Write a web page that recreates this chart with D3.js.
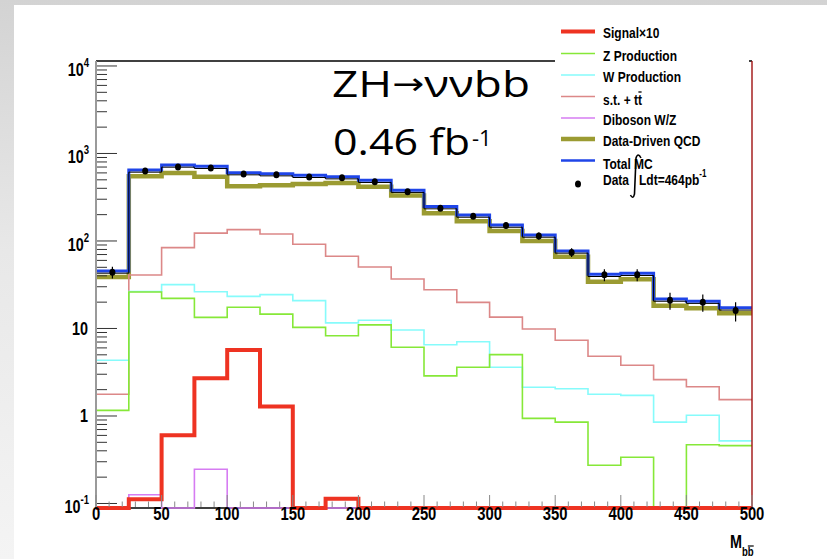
<!DOCTYPE html>
<html>
<head>
<meta charset="utf-8">
<script src="https://cdn.jsdelivr.net/npm/d3@7"></script>
<style>
  body { margin: 0; background: #fff; }
  svg { display: block; }
  .root { font-family: "Liberation Sans", Arial, sans-serif; font-weight: bold; }
</style>
</head>
<body>
<div id="chart"></div>
<script>
// bin edges of M_bb (GeV), 20 bins of 25
const binEdges = [0, 25, 50, 75, 100, 125, 150, 175, 200, 225, 250, 275, 300, 325, 350, 375, 400, 425, 450, 475, 500];

// events per bin
const totalMC = [45.4, 648, 739, 714, 604, 588, 563, 543, 494, 380, 247, 198, 152, 117, 76.9, 41.6, 42.7, 21.7, 20.5, 17.2];
const qcd     = [38.8, 549, 598, 543, 422, 433, 448, 460, 418, 330, 207, 168, 130, 100, 66.2, 34.3, 36.5, 18.2, 17.0, 14.9];
const dataPts = [44, 631, 701, 683, 583, 572, 539, 529, 476, 366, 236, 192, 150, 114, 74, 41, 41, 21, 20, 16];
const stTop   = [1.77, 40.9, 83.9, 123, 135, 120, 91.7, 66.8, 50.4, 36.8, 27.7, 19.9, 13.5, 9.87, 7.33, 4.81, 3.8, 2.6, 2.16, 1.54];
const wProd   = [4.33, 26.5, 31.7, 26.3, 23.3, 24.4, 20.8, 11.6, 12.4, 9.6, 6.53, 7.06, 3.6, 2.13, 2.05, 1.77, 1.72, 0.85, 1.02, 0.52];
const zProd   = [1.16, 26.1, 22.1, 13.4, 17.5, 14.6, 10.3, 8.27, 11.0, 6.1, 2.87, 3.6, 5.02, 0.94, 0.85, 0.273, 0.337, 0, 0.47, 0.458];
const diboson = [0, 0.126, 0, 0.246, 0, 0, 0, 0, 0, 0, 0, 0, 0, 0, 0, 0, 0, 0, 0, 0];
const signal  = [0, 0.112, 0.601, 2.7, 5.68, 1.28, 0, 0.113, 0, 0, 0, 0, 0, 0, 0, 0, 0, 0, 0, 0];

const yDecades = [-1, 0, 1, 2, 3, 4];
const xTickLabels = [0, 50, 100, 150, 200, 250, 300, 350, 400, 450, 500];

const W = 827, H = 559;
const svg = d3.select('#chart').append('svg').attr('width', W).attr('height', H);

// slide background + white pad
const defs = svg.append('defs');
const grad = defs.append('linearGradient').attr('id', 'bg').attr('x1', 0).attr('y1', 0).attr('x2', 0).attr('y2', 1);
grad.append('stop').attr('offset', '0%').attr('stop-color', '#d3d3d3');
grad.append('stop').attr('offset', '45%').attr('stop-color', '#e8e8e8');
grad.append('stop').attr('offset', '100%').attr('stop-color', '#f4f4f4');
svg.append('rect').attr('width', W).attr('height', H).attr('fill', 'url(#bg)');
svg.append('rect').attr('x', 14).attr('y', 5).attr('width', W - 14).attr('height', H - 5).attr('fill', '#fff');

const yMin = 0.0888, yMax = 11400;
const x = d3.scaleLinear().domain([0, 500]).range([96, 752]);
const y = d3.scaleLog().domain([yMin, yMax]).range([508, 61]);
const yv = v => v > yMin ? y(v) : y.range()[0];

const root = svg.append('g').attr('class', 'root');

// condensed text helper (ROOT helvetica looks narrow here)
function ctext(g, px, py, size, anchor) {
  return g.append('g').attr('transform', `translate(${px},${py}) scale(0.8,1)`)
    .append('text').attr('font-size', size).attr('text-anchor', anchor || 'start');
}

// step histogram path
const line = d3.line();
function stepPath(vals) {
  const pts = [];
  vals.forEach((v, i) => {
    pts.push([x(binEdges[i]), yv(v)]);
    pts.push([x(binEdges[i + 1]), yv(v)]);
  });
  return line(pts);
}
function hist(vals, color, width) {
  return root.append('path').attr('d', stepPath(vals)).attr('fill', 'none')
    .attr('stroke', color).attr('stroke-width', width);
}

// histograms
hist(qcd, '#9b9b32', 4.5);
hist(stTop, '#dc8888', 1.6);
hist(wProd, '#86fbfb', 1.6);
hist(zProd, '#86e838', 1.6);
root.append('line').attr('x1', x(0)).attr('x2', x(500)).attr('y1', 508).attr('y2', 508)
  .attr('stroke', '#000').attr('stroke-width', 1.5);
hist(diboson, '#d67cf2', 1.6);
hist(signal, '#ee3322', 4);
hist(totalMC, '#1f45e8', 3);
hist(totalMC, '#000', 1).attr('transform', 'translate(0,2.2)');

// data points with sqrt(N) errors
dataPts.forEach((d, i) => {
  const cx = x((binEdges[i] + binEdges[i + 1]) / 2);
  const e = Math.sqrt(d);
  root.append('line').attr('x1', cx).attr('x2', cx).attr('y1', y(d + e)).attr('y2', y(d - e))
    .attr('stroke', '#000').attr('stroke-width', 1.2);
  root.append('ellipse').attr('cx', cx).attr('cy', y(d)).attr('rx', 3).attr('ry', 3.5).attr('fill', '#000');
});

// frame
root.append('line').attr('x1', 96).attr('x2', 752).attr('y1', 61).attr('y2', 61).attr('stroke', '#000').attr('stroke-width', 1.3);
root.append('line').attr('x1', 752).attr('x2', 752).attr('y1', 61).attr('y2', 508).attr('stroke', '#a01010').attr('stroke-width', 1.4);

// y axis (log) ticks
const yAxisG = root.append('g');
yAxisG.append('line').attr('x1', 96).attr('x2', 96).attr('y1', 61).attr('y2', 508).attr('stroke', '#9a9a9a').attr('stroke-width', 2);
yDecades.forEach(k => {
  for (let m = 1; m <= 9; m++) {
    const v = m * Math.pow(10, k);
    if (v < yMin || v > yMax) continue;
    yAxisG.append('line').attr('x1', 97).attr('x2', m === 1 ? 117 : 107)
      .attr('y1', y(v)).attr('y2', y(v)).attr('stroke', '#333').attr('stroke-width', 1);
  }
});
yDecades.forEach(k => {
  const ty = y(Math.pow(10, k));
  if (k === 0 || k === 1) {
    ctext(yAxisG, 88, ty + 6.5, 18, 'end').text(k === 0 ? '1' : '10');
  } else {
    const t = ctext(yAxisG, 89, ty + 10, 18, 'end');
    t.append('tspan').text('10');
    t.append('tspan').attr('font-size', 12).attr('dy', -9).text(k);
  }
});

// x axis ticks
const xAxisG = root.append('g');
d3.range(0, 501, 10).forEach(v => {
  const major = v % 50 === 0;
  xAxisG.append('line').attr('x1', x(v)).attr('x2', x(v)).attr('y1', 507).attr('y2', major ? 495 : 501.5)
    .attr('stroke', '#888').attr('stroke-width', 1);
});
xTickLabels.forEach(v => ctext(xAxisG, x(v), 520, 18.5, 'middle').text(v));

// axis title M_{b bbar}
{
  const t = ctext(root, 730, 548, 18, 'start');
  t.append('tspan').text('M');
  t.append('tspan').attr('font-size', 12).attr('dy', 8).text('bb');
  const n = t.node();
  const s = n.getStartPositionOfChar(2), e = n.getEndPositionOfChar(2);
  d3.select(n.parentNode).append('line').attr('x1', s.x).attr('x2', e.x)
    .attr('y1', s.y - 10).attr('y2', s.y - 10).attr('stroke', '#000').attr('stroke-width', 1.2);
}

// legend
const leg = root.append('g');
leg.append('rect').attr('x', 555).attr('y', 18).attr('width', 194).attr('height', 180).attr('fill', '#fff');
const legendItems = [
  { label: 'Signal×10', color: '#ee3322', w: 4, ly: 31.5, ty: 37.5 },
  { label: 'Z Production', color: '#86e838', w: 1.6, ly: 53.5, ty: 60.5 },
  { label: 'W Production', color: '#86fbfb', w: 1.6, ly: 75, ty: 82 },
  { label: 's.t. + tt', color: '#dc8888', w: 1.6, ly: 96.5, ty: 104.5, bar: true },
  { label: 'Diboson W/Z', color: '#d67cf2', w: 1.6, ly: 118, ty: 124.5 },
  { label: 'Data-Driven QCD', color: '#9b9b32', w: 4.5, ly: 139, ty: 146 },
  { label: 'Total MC', color: '#1f45e8', w: 2.5, ly: 160.5, ty: 168.5 }
];
legendItems.forEach(it => {
  leg.append('line').attr('x1', 561).attr('x2', 595).attr('y1', it.ly).attr('y2', it.ly)
    .attr('stroke', it.color).attr('stroke-width', it.w);
  const t = ctext(leg, 603, it.ty, 15, 'start').text(it.label);
  if (it.bar) {
    const n = t.node(), i = it.label.length - 1;
    const s = n.getStartPositionOfChar(i), e = n.getEndPositionOfChar(i);
    d3.select(n.parentNode).append('line').attr('x1', s.x + 0.5).attr('x2', e.x - 0.5)
      .attr('y1', s.y - 12.5).attr('y2', s.y - 12.5).attr('stroke', '#000').attr('stroke-width', 1.3);
  }
});
leg.append('ellipse').attr('cx', 578).attr('cy', 184).attr('rx', 3).attr('ry', 3.5).attr('fill', '#000');
ctext(leg, 603, 185, 15, 'start').text('Data');
leg.append('path').attr('d', 'M641,158 Q638,152 636,158 L634.5,194 Q633,200 630.5,195')
  .attr('fill', 'none').attr('stroke', '#000').attr('stroke-width', 1.6);
{
  const t = ctext(leg, 639, 185, 15, 'start');
  t.append('tspan').text('Ldt=464pb');
  t.append('tspan').attr('font-size', 10).attr('dy', -8).text('-1');
}

// slide annotation
const ann = svg.append('g').attr('font-family', '"Open Sans", "Noto Sans", sans-serif').attr('fill', '#000');
{
  const t = ann.append('text').attr('x', 332).attr('y', 97).attr('font-size', 36)
    .attr('textLength', 198).attr('lengthAdjust', 'spacingAndGlyphs');
  t.append('tspan').text('ZH');
  t.append('tspan').attr('font-family', '"DejaVu Sans", sans-serif').attr('font-size', 30).attr('dy', -3).text('→');
  t.append('tspan').attr('dy', 3).text('ννbb');
  ann.append('text').attr('x', 333).attr('y', 155).attr('font-size', 36)
    .attr('textLength', 137).attr('lengthAdjust', 'spacingAndGlyphs').text('0.46 fb');
  ann.append('text').attr('x', 472).attr('y', 146).attr('font-size', 22).text('-1');
}
</script>
</body>
</html>
